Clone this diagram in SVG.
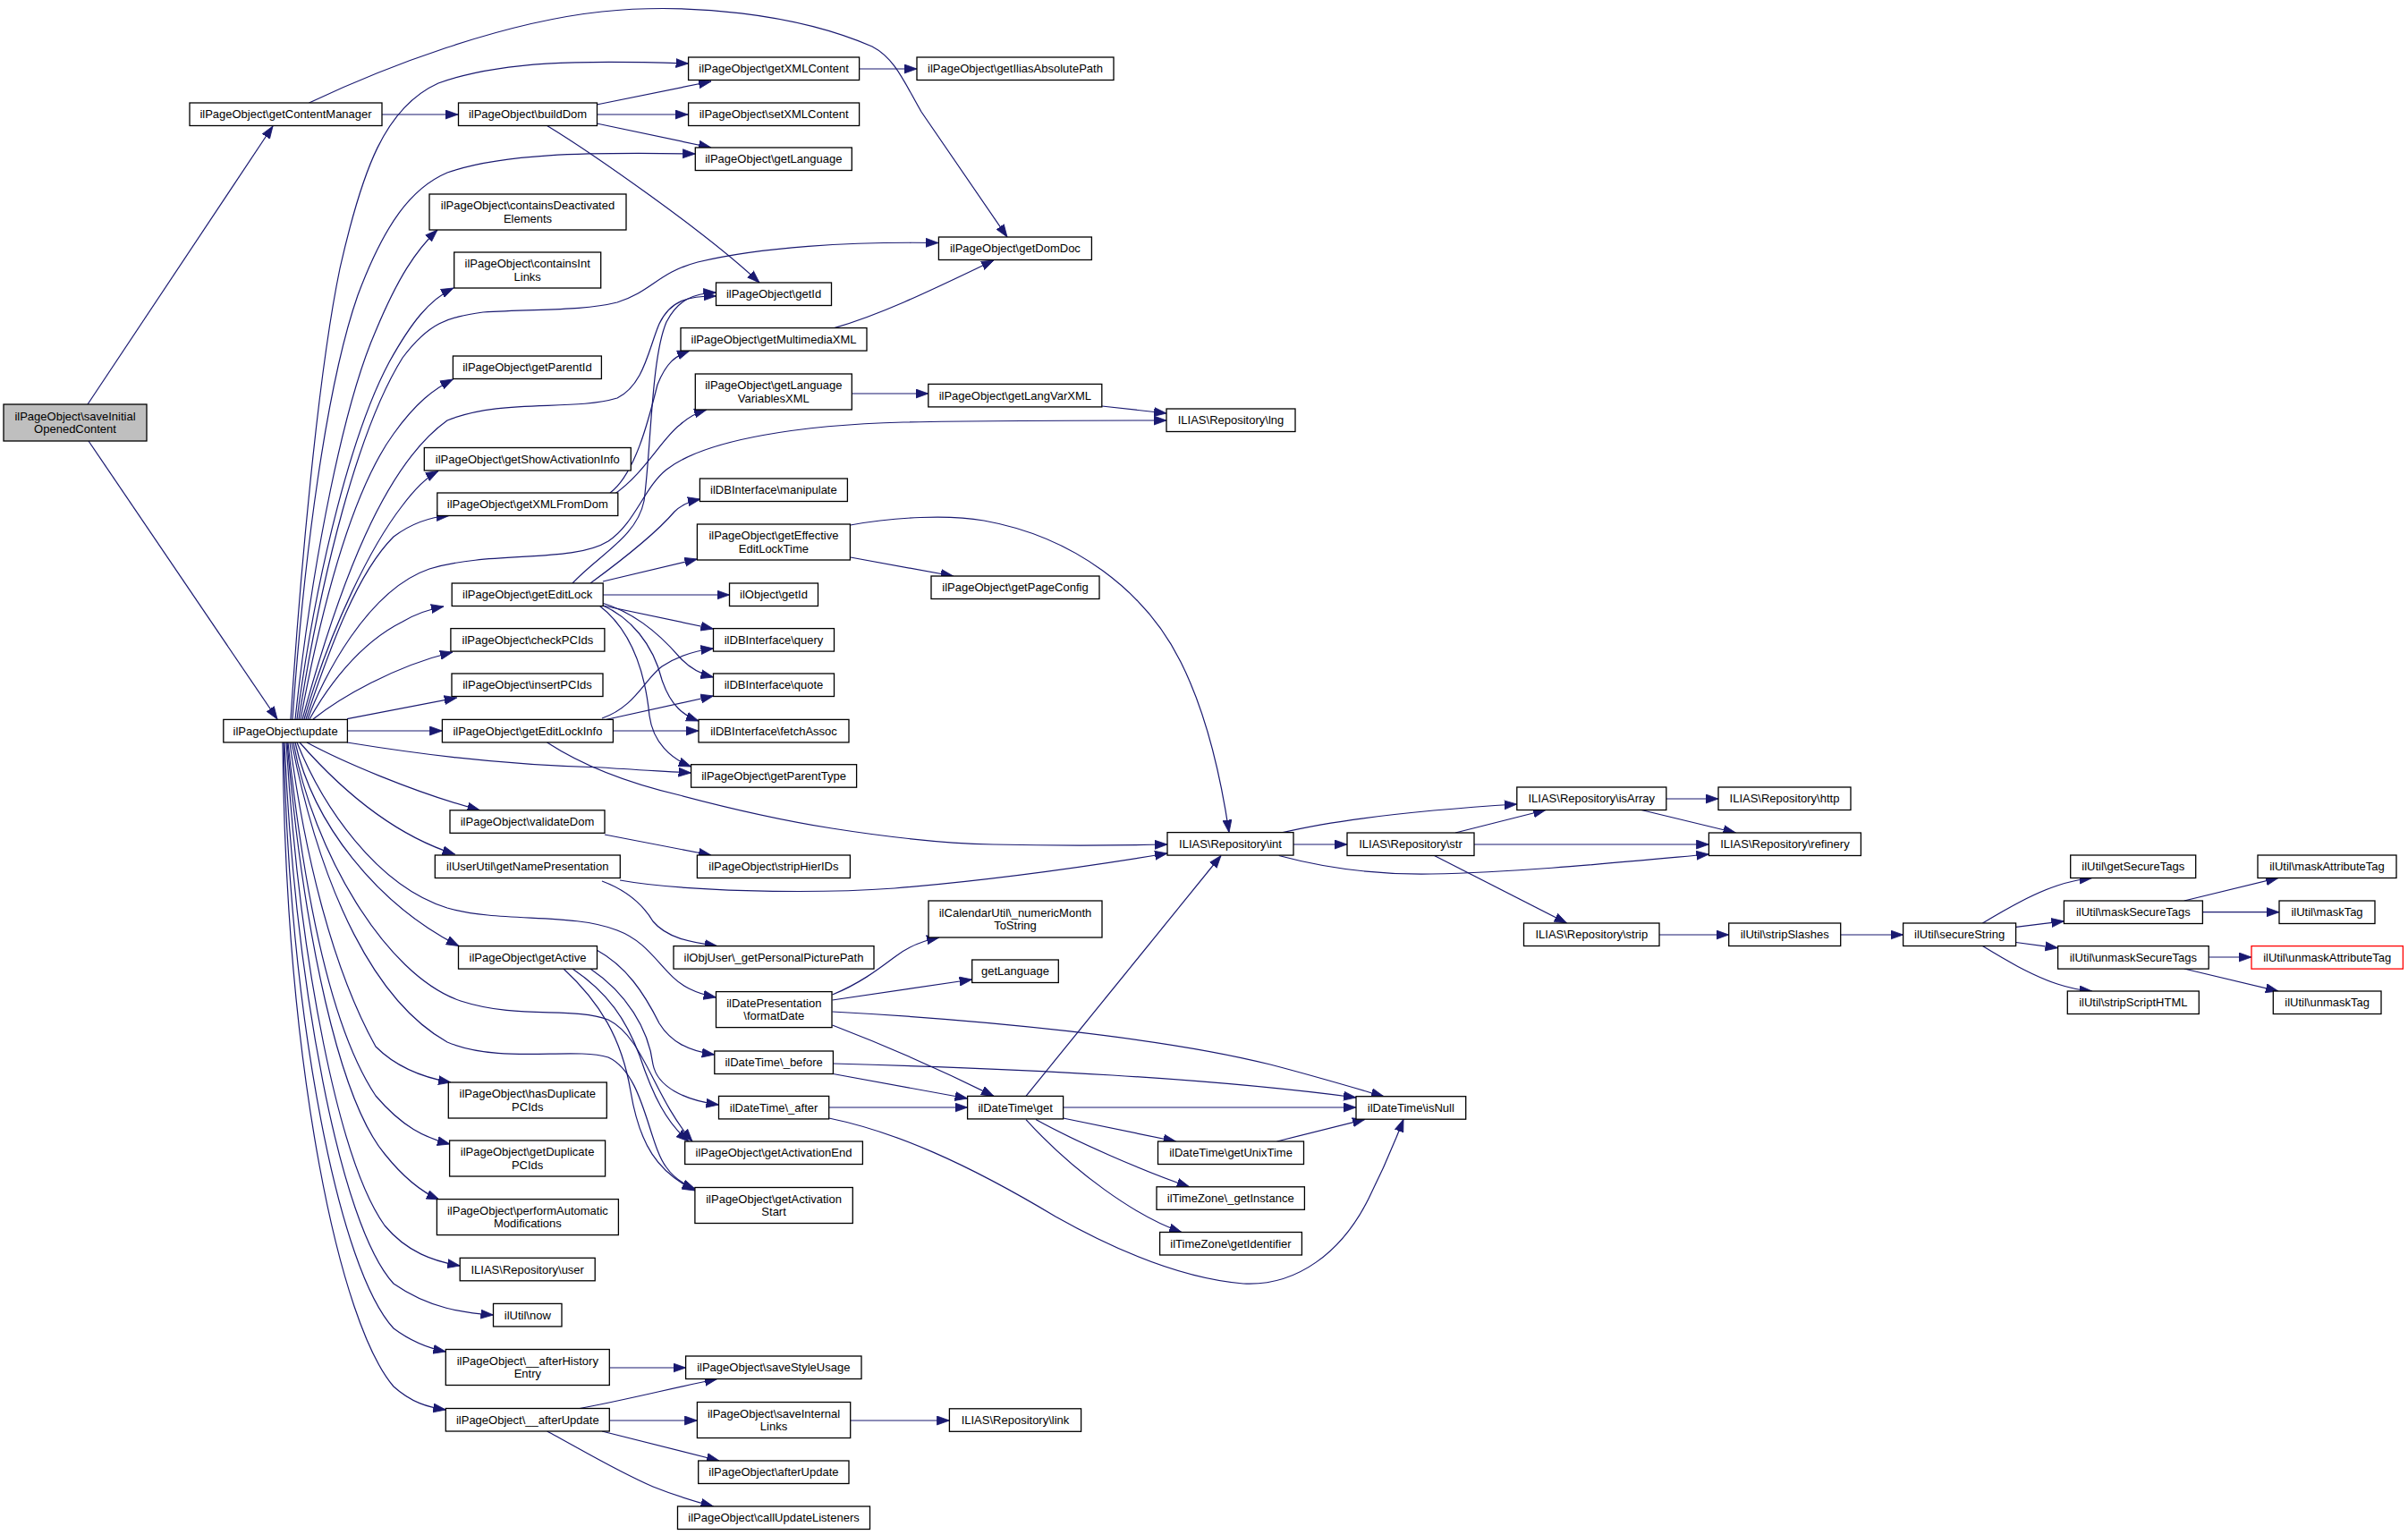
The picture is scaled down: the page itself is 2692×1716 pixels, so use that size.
<svg xmlns="http://www.w3.org/2000/svg" width="2692" height="1716" viewBox="0 0 2692 1716">
<style>
.n rect{fill:#ffffff;stroke:#000000;stroke-width:1.3}
.n text{font-family:"Liberation Sans",Arial,Helvetica,sans-serif;font-size:13px;text-anchor:middle;fill:#000000}
.root rect{fill:#bfbfbf}
.red rect{stroke:#ff0000}
#edges path{fill:none;stroke:#191970;stroke-width:1.2;marker-end:url(#ah)}
</style>
<defs>
<marker id="ah" markerUnits="userSpaceOnUse" markerWidth="16" markerHeight="12" refX="14" refY="5.5" orient="auto">
<path d="M0,0.5 L14,5.5 L0,10.5 z" fill="#191970" stroke="#191970" stroke-width="0.8"/>
</marker>
</defs>
<rect x="0" y="0" width="2692" height="1716" fill="#ffffff"/>
<g id="edges">
<path d="M98,452 L305,141"/>
<path d="M99,493 L310,804"/>
<path d="M427,128 L512,128"/>
<path d="M345.5,115 C430,75 560,25 673,13 C770,3 890,15 975,52 C1000,65 1010,90 1030,125 L1126,265"/>
<path d="M667,117 L795,91"/>
<path d="M667,128 L769,128"/>
<path d="M667,138 L795,165"/>
<path d="M611.6,140.5 C660,170 790,260 849,316"/>
<path d="M960.6,77 L1025,77"/>
<path d="M325,804 C335,650 355,420 380,300 C405,190 430,120 490,93 C560,68 650,67 769.6,71"/>
<path d="M327,804 C340,620 365,430 400,330 C430,250 460,210 500,193 C560,172 650,170 777.3,172"/>
<path d="M330,804 C350,620 385,450 420,370 C445,310 465,280 489,257"/>
<path d="M332,804 C355,630 395,480 435,405 C460,360 480,335 507,322"/>
<path d="M334,804 C360,640 400,480 450,400 C480,360 500,355 540,349 C600,345 650,348 690,338 C730,325 735,305 780,293 C850,276 950,270 1049,271.5"/>
<path d="M336,804 C365,650 400,540 440,485 C465,450 485,435 506.4,424"/>
<path d="M338,804 C380,650 430,520 500,470 C560,445 640,460 690,445 C720,430 725,390 737,362 C750,335 770,331 800.5,331"/>
<path d="M340,804 C370,700 415,610 450,565 C465,545 478,533 490,526.5"/>
<path d="M342,804 C370,720 400,640 440,600 C460,585 480,578 502,576.5"/>
<path d="M344,804 C360,760 410,660 480,636 C550,615 640,630 680,605 C710,585 720,545 745,525 C790,490 900,475 1010,472 C1110,470 1200,470 1304,470"/>
<path d="M346,804 C365,770 400,720 450,695 C465,686 480,681 496,678"/>
<path d="M350,804 C380,780 440,745 506,729"/>
<path d="M388,803.6 L510.7,780"/>
<path d="M388.4,817 L494.4,817"/>
<path d="M388,830 C450,840 550,855 673,858 C700,860 740,862 772.6,864"/>
<path d="M343,830 C380,850 460,885 536.5,905.8"/>
<path d="M335,830 C370,870 430,930 508.6,955"/>
<path d="M332,830 C360,900 420,990 500,1015 C560,1032 640,1020 690,1040 C730,1055 740,1090 770,1105 C780,1110 790,1113 800.5,1115"/>
<path d="M330,830 C350,920 420,1010 513,1057.6"/>
<path d="M328,830 C350,950 430,1090 515,1119 C580,1140 640,1125 680,1140 C720,1160 730,1225 774,1276"/>
<path d="M326,830 C360,1000 420,1120 500,1165 C560,1190 640,1170 680,1182 C720,1200 725,1280 745,1305 C752,1315 762,1323 777,1329"/>
<path d="M324,830 C340,950 370,1080 420,1170 C445,1195 475,1205 504,1210"/>
<path d="M322,830 C340,1000 370,1150 420,1225 C450,1260 475,1272 503,1279"/>
<path d="M321,830 C340,1050 380,1230 430,1290 C450,1315 470,1332 491,1341"/>
<path d="M320,830 C335,1080 380,1300 430,1370 C455,1400 485,1410 514.2,1415"/>
<path d="M318,830 C330,1100 380,1370 440,1435 C480,1463 520,1468 551.5,1470"/>
<path d="M317,830 C325,1150 380,1420 440,1485 C460,1500 478,1507 498.3,1511"/>
<path d="M316,830 C320,1200 380,1480 440,1550 C460,1568 478,1573 498.3,1576"/>
<path d="M682,551 C710,530 725,470 735,430 C745,405 755,398 771,392"/>
<path d="M686,553 C720,530 740,490 760,475 C770,466 780,461 790,458"/>
<path d="M640,652 C670,620 712,600 720,560 C728,500 728,400 745,360 C758,335 775,328 800.5,327"/>
<path d="M660,652 C690,630 730,600 754,572 C760,566 768,561 783,558"/>
<path d="M674,650 L779.4,625"/>
<path d="M674,665 L815.5,665"/>
<path d="M674,677 L797.5,703"/>
<path d="M673,674 C700,682 730,700 760,735 C772,748 785,754 797.5,757"/>
<path d="M672,676 C705,690 730,720 740,760 C750,790 765,800 781,806"/>
<path d="M670,677 C700,700 720,740 726,800 C730,830 750,848 772.6,857"/>
<path d="M673,803 C710,790 720,760 740,745 C760,732 780,727 797.5,725"/>
<path d="M675,805 L797.5,778"/>
<path d="M685,817 L781,817"/>
<path d="M611.6,830 C650,855 700,875 760,889 C820,905 880,918 930,926 C1000,937 1060,943 1110,944 C1200,946 1260,945 1305,944"/>
<path d="M676,933 L795,956"/>
<path d="M693,984 C760,996 900,1000 1000,993 C1120,983 1220,968 1305,954"/>
<path d="M673,985 C700,995 718,1010 730,1030 C745,1048 770,1053 801.8,1057.6"/>
<path d="M950.7,623 L1065.7,644"/>
<path d="M950.7,587 C1000,578 1060,575 1100,582 C1200,600 1280,660 1320,740 C1350,800 1365,870 1374,930.6"/>
<path d="M932.7,366.6 C990,350 1050,320 1111,291"/>
<path d="M952.4,440 L1037.8,440"/>
<path d="M1231.8,454 L1304,462"/>
<path d="M667,1062 C700,1080 720,1110 737,1144 C750,1165 770,1175 798.8,1179"/>
<path d="M660,1083 C700,1110 725,1150 730,1190 C735,1215 765,1230 803.5,1235"/>
<path d="M640,1083 C680,1110 700,1140 715,1180 C730,1225 745,1255 770,1276"/>
<path d="M630,1083 C670,1120 695,1160 705,1220 C715,1280 735,1310 777,1331"/>
<path d="M930.5,1112 C960,1100 980,1085 1000,1070 C1015,1058 1030,1052 1050,1048"/>
<path d="M930.5,1118 L1086.7,1095"/>
<path d="M930.5,1131 C1100,1140 1300,1160 1420,1190 C1470,1203 1510,1215 1547,1225.7"/>
<path d="M930.5,1146 C980,1165 1050,1195 1111,1225.4"/>
<path d="M931.4,1200.5 L1081.6,1228"/>
<path d="M931.4,1189 C1150,1195 1350,1205 1516,1227"/>
<path d="M926.7,1238 L1081.6,1238"/>
<path d="M926.7,1250 C1000,1265 1080,1300 1180,1360 C1260,1405 1330,1430 1390,1435 C1450,1438 1500,1400 1530,1340 C1550,1300 1560,1275 1569,1251.3"/>
<path d="M1147,1225.4 L1365,956.5"/>
<path d="M1188.5,1238 L1516,1238"/>
<path d="M1188.5,1250 L1314.6,1276"/>
<path d="M1158,1251.6 C1200,1275 1280,1310 1329.7,1326.8"/>
<path d="M1147,1251.6 C1200,1310 1270,1360 1321,1377.5"/>
<path d="M1427.5,1276 L1526,1251.3"/>
<path d="M1446,944 L1506,944"/>
<path d="M1434,930.6 C1500,915 1600,905 1695.8,899"/>
<path d="M1429.7,956.5 C1480,970 1540,978 1600,977 C1700,975 1800,965 1910.4,955"/>
<path d="M1627,931 L1728,905.5"/>
<path d="M1648,944 L1910.4,944"/>
<path d="M1603.5,956.5 L1751.6,1032"/>
<path d="M1862.8,893 L1921,893"/>
<path d="M1835,905.5 L1940.5,931"/>
<path d="M1855,1045 L1932.7,1045"/>
<path d="M2057.6,1045 L2127.6,1045"/>
<path d="M2216.4,1032 C2240,1018 2270,1000 2300,990 C2315,985 2325,983 2338.8,981.5"/>
<path d="M2253.8,1036.4 L2307.4,1029.8"/>
<path d="M2253.8,1053.5 L2300.6,1059.7"/>
<path d="M2216.4,1057.6 C2240,1072 2270,1090 2300,1100 C2315,1105 2325,1107 2338.8,1108"/>
<path d="M2441.8,1007 L2547,981.5"/>
<path d="M2462.4,1019.7 L2548,1019.7"/>
<path d="M2469.2,1070 L2517,1070"/>
<path d="M2441.8,1083 L2547,1108"/>
<path d="M681.3,1529 L766.6,1529"/>
<path d="M648,1574.5 C700,1565 750,1552 801.8,1541.5"/>
<path d="M681.3,1588 L779.4,1588"/>
<path d="M673,1600 L804,1633"/>
<path d="M611.6,1600 C640,1615 690,1645 730,1662 C755,1672 775,1678 797.5,1684"/>
<path d="M950.7,1588 L1061.4,1588"/>
</g>
<g id="n_saveInitial" class="n root"><rect x="4" y="452" width="160" height="41"/><text x="84" y="469.7">ilPageObject\saveInitial</text><text x="84" y="484.3">OpenedContent</text></g>
<g id="n_getContentManager" class="n"><rect x="212" y="115" width="215" height="25.5"/><text x="319.5" y="132.2">ilPageObject\getContentManager</text></g>
<g id="n_buildDom" class="n"><rect x="512.5" y="115" width="155" height="25.5"/><text x="590" y="132.2">ilPageObject\buildDom</text></g>
<g id="n_getXMLContent" class="n"><rect x="769.6" y="64" width="191" height="25.5"/><text x="865.1" y="81.2">ilPageObject\getXMLContent</text></g>
<g id="n_getIliasAbsolutePath" class="n"><rect x="1025" y="64" width="220" height="25.5"/><text x="1135" y="81.2">ilPageObject\getIliasAbsolutePath</text></g>
<g id="n_setXMLContent" class="n"><rect x="769.6" y="115" width="191" height="25.5"/><text x="865.1" y="132.2">ilPageObject\setXMLContent</text></g>
<g id="n_getLanguagePO" class="n"><rect x="777.3" y="165" width="175" height="25.5"/><text x="864.8" y="182.2">ilPageObject\getLanguage</text></g>
<g id="n_containsDeactivated" class="n"><rect x="480" y="217" width="220" height="40"/><text x="590" y="234.2">ilPageObject\containsDeactivated</text><text x="590" y="248.8">Elements</text></g>
<g id="n_getDomDoc" class="n"><rect x="1049.4" y="265" width="171" height="25.5"/><text x="1134.9" y="282.2">ilPageObject\getDomDoc</text></g>
<g id="n_containsIntLinks" class="n"><rect x="507.7" y="282" width="164" height="40"/><text x="589.7" y="299.2">ilPageObject\containsInt</text><text x="589.7" y="313.8">Links</text></g>
<g id="n_getIdPO" class="n"><rect x="800.5" y="316" width="129" height="25.5"/><text x="865" y="333.2">ilPageObject\getId</text></g>
<g id="n_getMultimediaXML" class="n"><rect x="761" y="366.6" width="208" height="25.5"/><text x="865" y="383.8">ilPageObject\getMultimediaXML</text></g>
<g id="n_getParentId" class="n"><rect x="506.4" y="398" width="166" height="25.5"/><text x="589.4" y="415.2">ilPageObject\getParentId</text></g>
<g id="n_getLanguageVariablesXML" class="n"><rect x="777.3" y="418" width="175" height="40"/><text x="864.8" y="435.2">ilPageObject\getLanguage</text><text x="864.8" y="449.8">VariablesXML</text></g>
<g id="n_getLangVarXML" class="n"><rect x="1037.8" y="429.4" width="194" height="25.5"/><text x="1134.8" y="446.6">ilPageObject\getLangVarXML</text></g>
<g id="n_lng" class="n"><rect x="1304" y="457" width="144" height="25.5"/><text x="1376" y="474.2">ILIAS\Repository\lng</text></g>
<g id="n_getShowActivationInfo" class="n"><rect x="474.3" y="500.5" width="231" height="25.5"/><text x="589.8" y="517.7">ilPageObject\getShowActivationInfo</text></g>
<g id="n_manipulate" class="n"><rect x="782.4" y="535" width="165" height="25.5"/><text x="864.9" y="552.2">ilDBInterface\manipulate</text></g>
<g id="n_getXMLFromDom" class="n"><rect x="488.8" y="551" width="202" height="25.5"/><text x="589.8" y="568.2">ilPageObject\getXMLFromDom</text></g>
<g id="n_getEffectiveEditLockTime" class="n"><rect x="779.4" y="586" width="171" height="40"/><text x="864.9" y="603.2">ilPageObject\getEffective</text><text x="864.9" y="617.8">EditLockTime</text></g>
<g id="n_getPageConfig" class="n"><rect x="1041" y="644" width="188" height="25.5"/><text x="1135" y="661.2">ilPageObject\getPageConfig</text></g>
<g id="n_getEditLock" class="n"><rect x="505.2" y="652" width="169" height="25.5"/><text x="589.7" y="669.2">ilPageObject\getEditLock</text></g>
<g id="n_ilObjectGetId" class="n"><rect x="815.5" y="652" width="99" height="25.5"/><text x="865" y="669.2">ilObject\getId</text></g>
<g id="n_checkPCIds" class="n"><rect x="503.9" y="702.6" width="172" height="25.5"/><text x="589.9" y="719.8">ilPageObject\checkPCIds</text></g>
<g id="n_query" class="n"><rect x="797.5" y="702.6" width="135" height="25.5"/><text x="865" y="719.8">ilDBInterface\query</text></g>
<g id="n_insertPCIds" class="n"><rect x="505" y="753" width="169" height="25.5"/><text x="589.5" y="770.2">ilPageObject\insertPCIds</text></g>
<g id="n_quote" class="n"><rect x="797.5" y="753" width="135" height="25.5"/><text x="865" y="770.2">ilDBInterface\quote</text></g>
<g id="n_update" class="n"><rect x="249.8" y="804.4" width="138.6" height="25.5"/><text x="319.1" y="821.6">ilPageObject\update</text></g>
<g id="n_getEditLockInfo" class="n"><rect x="494.4" y="804.4" width="191" height="25.5"/><text x="589.9" y="821.6">ilPageObject\getEditLockInfo</text></g>
<g id="n_fetchAssoc" class="n"><rect x="781" y="804.4" width="168" height="25.5"/><text x="865" y="821.6">ilDBInterface\fetchAssoc</text></g>
<g id="n_getParentType" class="n"><rect x="772.6" y="854.7" width="185" height="25.5"/><text x="865.1" y="871.9">ilPageObject\getParentType</text></g>
<g id="n_isArray" class="n"><rect x="1695.8" y="880" width="167" height="25.5"/><text x="1779.3" y="897.2">ILIAS\Repository\isArray</text></g>
<g id="n_http" class="n"><rect x="1921" y="880" width="148" height="25.5"/><text x="1995" y="897.2">ILIAS\Repository\http</text></g>
<g id="n_validateDom" class="n"><rect x="503" y="905.8" width="173" height="25.5"/><text x="589.5" y="923">ilPageObject\validateDom</text></g>
<g id="n_int" class="n"><rect x="1305" y="930.6" width="141" height="25.5"/><text x="1375.5" y="947.8">ILIAS\Repository\int</text></g>
<g id="n_str" class="n"><rect x="1506" y="931" width="142" height="25.5"/><text x="1577" y="948.2">ILIAS\Repository\str</text></g>
<g id="n_refinery" class="n"><rect x="1910.4" y="931" width="170" height="25.5"/><text x="1995.4" y="948.2">ILIAS\Repository\refinery</text></g>
<g id="n_getNamePresentation" class="n"><rect x="486.3" y="956" width="207" height="25.5"/><text x="589.8" y="973.2">ilUserUtil\getNamePresentation</text></g>
<g id="n_stripHierIDs" class="n"><rect x="779.4" y="956" width="171" height="25.5"/><text x="864.9" y="973.2">ilPageObject\stripHierIDs</text></g>
<g id="n_getSecureTags" class="n"><rect x="2314.7" y="956" width="140" height="25.5"/><text x="2384.7" y="973.2">ilUtil\getSecureTags</text></g>
<g id="n_maskAttributeTag" class="n"><rect x="2524" y="956" width="155" height="25.5"/><text x="2601.5" y="973.2">ilUtil\maskAttributeTag</text></g>
<g id="n_numericMonthToString" class="n"><rect x="1038" y="1007" width="194" height="41"/><text x="1135" y="1024.7">ilCalendarUtil\_numericMonth</text><text x="1135" y="1039.3">ToString</text></g>
<g id="n_maskSecureTags" class="n"><rect x="2307.4" y="1007" width="155" height="25.5"/><text x="2384.9" y="1024.2">ilUtil\maskSecureTags</text></g>
<g id="n_maskTag" class="n"><rect x="2548" y="1007" width="107" height="25.5"/><text x="2601.5" y="1024.2">ilUtil\maskTag</text></g>
<g id="n_strip" class="n"><rect x="1703.5" y="1032" width="151.5" height="25.5"/><text x="1779.3" y="1049.2">ILIAS\Repository\strip</text></g>
<g id="n_stripSlashes" class="n"><rect x="1932.7" y="1032" width="125" height="25.5"/><text x="1995.2" y="1049.2">ilUtil\stripSlashes</text></g>
<g id="n_secureString" class="n"><rect x="2127.6" y="1032" width="126" height="25.5"/><text x="2190.6" y="1049.2">ilUtil\secureString</text></g>
<g id="n_getActive" class="n"><rect x="512.5" y="1057.6" width="155" height="25.5"/><text x="590" y="1074.8">ilPageObject\getActive</text></g>
<g id="n_getPersonalPicturePath" class="n"><rect x="753" y="1057.6" width="224" height="25.5"/><text x="865" y="1074.8">ilObjUser\_getPersonalPicturePath</text></g>
<g id="n_unmaskSecureTags" class="n"><rect x="2300.6" y="1057.6" width="168.6" height="25.5"/><text x="2384.9" y="1074.8">ilUtil\unmaskSecureTags</text></g>
<g id="n_unmaskAttributeTag" class="n red"><rect x="2517" y="1057.6" width="169.4" height="25.5"/><text x="2601.7" y="1074.8">ilUtil\unmaskAttributeTag</text></g>
<g id="n_getLanguage" class="n"><rect x="1086.7" y="1073" width="96.6" height="25.5"/><text x="1135" y="1090.2">getLanguage</text></g>
<g id="n_formatDate" class="n"><rect x="800.5" y="1108.6" width="129.5" height="40"/><text x="865.3" y="1125.8">ilDatePresentation</text><text x="865.3" y="1140.4">\formatDate</text></g>
<g id="n_stripScriptHTML" class="n"><rect x="2311.3" y="1108" width="147" height="25.5"/><text x="2384.8" y="1125.2">ilUtil\stripScriptHTML</text></g>
<g id="n_unmaskTag" class="n"><rect x="2541.3" y="1108" width="120.7" height="25.5"/><text x="2601.6" y="1125.2">ilUtil\unmaskTag</text></g>
<g id="n_before" class="n"><rect x="798.8" y="1175" width="132.6" height="25.5"/><text x="865.1" y="1192.2">ilDateTime\_before</text></g>
<g id="n_hasDuplicatePCIds" class="n"><rect x="501.3" y="1210" width="177" height="40"/><text x="589.8" y="1227.2">ilPageObject\hasDuplicate</text><text x="589.8" y="1241.8">PCIds</text></g>
<g id="n_after" class="n"><rect x="803.5" y="1225.4" width="123.2" height="25.5"/><text x="865.1" y="1242.6">ilDateTime\_after</text></g>
<g id="n_get" class="n"><rect x="1081.6" y="1225.4" width="107" height="25.5"/><text x="1135.1" y="1242.6">ilDateTime\get</text></g>
<g id="n_isNull" class="n"><rect x="1516" y="1225.7" width="122.7" height="25.5"/><text x="1577.3" y="1242.9">ilDateTime\isNull</text></g>
<g id="n_getDuplicatePCIds" class="n"><rect x="502.6" y="1275" width="174" height="40"/><text x="589.6" y="1292.2">ilPageObject\getDuplicate</text><text x="589.6" y="1306.8">PCIds</text></g>
<g id="n_getActivationEnd" class="n"><rect x="765.7" y="1276" width="198.7" height="25.5"/><text x="865" y="1293.2">ilPageObject\getActivationEnd</text></g>
<g id="n_getUnixTime" class="n"><rect x="1294.5" y="1276" width="163" height="25.5"/><text x="1376" y="1293.2">ilDateTime\getUnixTime</text></g>
<g id="n_getActivationStart" class="n"><rect x="776.9" y="1327.5" width="176.4" height="40"/><text x="865.1" y="1344.7">ilPageObject\getActivation</text><text x="865.1" y="1359.3">Start</text></g>
<g id="n_getInstance" class="n"><rect x="1293" y="1326.8" width="165.4" height="25.5"/><text x="1375.7" y="1344">ilTimeZone\_getInstance</text></g>
<g id="n_performAutomaticModifications" class="n"><rect x="488.4" y="1340.6" width="203" height="40"/><text x="589.9" y="1357.8">ilPageObject\performAutomatic</text><text x="589.9" y="1372.4">Modifications</text></g>
<g id="n_getIdentifier" class="n"><rect x="1296.6" y="1377.5" width="158.8" height="25.5"/><text x="1376" y="1394.7">ilTimeZone\getIdentifier</text></g>
<g id="n_user" class="n"><rect x="514.2" y="1406.3" width="151" height="25.5"/><text x="589.7" y="1423.5">ILIAS\Repository\user</text></g>
<g id="n_now" class="n"><rect x="551.5" y="1457.4" width="76.5" height="25.5"/><text x="589.8" y="1474.6">ilUtil\now</text></g>
<g id="n_afterHistoryEntry" class="n"><rect x="498.3" y="1508.5" width="183" height="40"/><text x="589.8" y="1525.7">ilPageObject\__afterHistory</text><text x="589.8" y="1540.3">Entry</text></g>
<g id="n_saveStyleUsage" class="n"><rect x="766.6" y="1516" width="196.4" height="25.5"/><text x="864.8" y="1533.2">ilPageObject\saveStyleUsage</text></g>
<g id="n_saveInternalLinks" class="n"><rect x="779.4" y="1567.5" width="171.3" height="40"/><text x="865" y="1584.7">ilPageObject\saveInternal</text><text x="865" y="1599.3">Links</text></g>
<g id="n_afterUpdatePriv" class="n"><rect x="498.3" y="1574.5" width="183" height="25.5"/><text x="589.8" y="1591.7">ilPageObject\__afterUpdate</text></g>
<g id="n_link" class="n"><rect x="1061.4" y="1574.8" width="147.2" height="25.5"/><text x="1135" y="1592">ILIAS\Repository\link</text></g>
<g id="n_afterUpdate" class="n"><rect x="780.7" y="1633" width="168.3" height="25.5"/><text x="864.9" y="1650.2">ilPageObject\afterUpdate</text></g>
<g id="n_callUpdateListeners" class="n"><rect x="757.5" y="1684" width="215" height="25.5"/><text x="865" y="1701.2">ilPageObject\callUpdateListeners</text></g>
</svg>
